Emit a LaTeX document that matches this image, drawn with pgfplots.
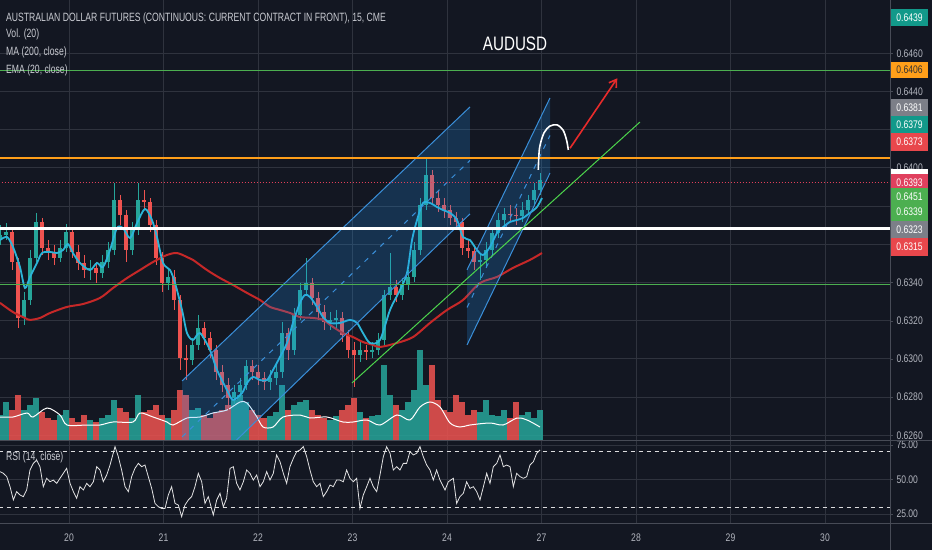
\documentclass[border=0pt]{standalone}
\usepackage{fontspec}
\setmainfont{Liberation Sans}[FakeStretch=0.78]
\newfontfamily\legfont{Liberation Sans}[FakeStretch=0.72]
\usepackage{pgfplots}
\pgfplotsset{compat=1.18}
\usepackage{pgfplotstable}
\usetikzlibrary{arrows.meta}

\definecolor{bg}{HTML}{131722}
\definecolor{gridc}{HTML}{2F333E}
\definecolor{sepc}{HTML}{474B56}
\definecolor{txt}{HTML}{B2B5BE}
\definecolor{legtxt}{HTML}{C9CBD2}
\definecolor{upc}{HTML}{26A69A}
\definecolor{dnc}{HTML}{EF5350}
\definecolor{emac}{HTML}{2CB5D8}
\definecolor{mac}{HTML}{C62828}
\definecolor{chline}{HTML}{3A8FD9}
\definecolor{chfill}{HTML}{2196F3}
\definecolor{hgreen}{HTML}{4CAF50}
\definecolor{horange}{HTML}{FF9F1A}
\definecolor{hred}{HTML}{E0405A}
\definecolor{tgreen}{HTML}{4CD44C}
\definecolor{arrowred}{HTML}{E82B2B}
\definecolor{bteal}{HTML}{12998A}
\definecolor{bred}{HTML}{E8474C}
\definecolor{bcrim}{HTML}{E0405E}
\definecolor{bgrey}{HTML}{7C7F88}
\definecolor{bgreen}{HTML}{4CAF50}

\begin{document}

\pgfplotstableread{
t o h l c v
-0.730 0.63622 0.63701 0.63596 0.63649 25
-0.667 0.63649 0.63711 0.63622 0.63664 38
-0.603 0.63664 0.63685 0.63465 0.63507 30
-0.540 0.63507 0.63528 0.63162 0.63214 45
-0.476 0.63214 0.63350 0.63177 0.63308 30
-0.413 0.63308 0.63570 0.63282 0.63528 35
-0.349 0.63528 0.63764 0.63507 0.63717 42
-0.286 0.63717 0.63738 0.63544 0.63581 28
-0.222 0.63581 0.63622 0.63518 0.63560 22
-0.159 0.63560 0.63596 0.63491 0.63528 20
-0.095 0.63528 0.63622 0.63507 0.63581 25
-0.032 0.63581 0.63706 0.63560 0.63664 30
0.032 0.63664 0.63685 0.63528 0.63560 22
0.095 0.63560 0.63596 0.63465 0.63502 18
0.159 0.63502 0.63544 0.63423 0.63465 25
0.222 0.63465 0.63518 0.63413 0.63476 20
0.286 0.63476 0.63507 0.63397 0.63450 18
0.349 0.63450 0.63544 0.63423 0.63507 22
0.413 0.63507 0.63612 0.63476 0.63570 25
0.476 0.63570 0.63921 0.63544 0.63832 40
0.540 0.63832 0.63858 0.63701 0.63753 32
0.603 0.63753 0.63779 0.63507 0.63570 28
0.667 0.63570 0.63717 0.63544 0.63675 22
0.730 0.63675 0.63921 0.63649 0.63832 45
0.794 0.63832 0.63884 0.63779 0.63821 28
0.857 0.63821 0.63842 0.63664 0.63701 30
0.921 0.63701 0.63727 0.63491 0.63528 35
0.984 0.63528 0.63560 0.63350 0.63397 25
1.048 0.63397 0.63476 0.63361 0.63429 22
1.111 0.63429 0.63465 0.63256 0.63308 30
1.175 0.63308 0.63334 0.62942 0.63005 50
1.238 0.63005 0.63073 0.62889 0.62994 45
1.302 0.62994 0.63109 0.62968 0.63073 30
1.365 0.63073 0.63230 0.63046 0.63162 32
1.429 0.63162 0.63193 0.63073 0.63109 25
1.492 0.63109 0.63141 0.63005 0.63046 22
1.556 0.63046 0.63073 0.62889 0.62931 28
1.619 0.62931 0.62968 0.62827 0.62863 30
1.683 0.62863 0.62900 0.62732 0.62795 35
1.746 0.62795 0.62863 0.62758 0.62827 40
1.810 0.62827 0.62900 0.62795 0.62863 45
1.873 0.62863 0.62994 0.62837 0.62963 38
1.937 0.62963 0.62994 0.62889 0.62931 30
2.000 0.62931 0.62968 0.62863 0.62900 25
2.063 0.62900 0.62931 0.62837 0.62879 22
2.127 0.62879 0.62942 0.62837 0.62900 24
2.190 0.62900 0.62968 0.62863 0.62931 28
2.254 0.62931 0.63193 0.62900 0.63135 55
2.317 0.63135 0.63162 0.62994 0.63046 30
2.381 0.63046 0.63266 0.63020 0.63230 35
2.444 0.63230 0.63397 0.63204 0.63361 38
2.508 0.63361 0.63528 0.63334 0.63397 40
2.571 0.63397 0.63423 0.63282 0.63319 30
2.635 0.63319 0.63350 0.63204 0.63245 25
2.698 0.63245 0.63282 0.63151 0.63193 22
2.762 0.63193 0.63245 0.63151 0.63204 20
2.825 0.63204 0.63256 0.63162 0.63214 24
2.889 0.63214 0.63245 0.63088 0.63125 30
2.952 0.63125 0.63151 0.63005 0.63046 35
3.016 0.63046 0.63088 0.62853 0.63020 42
3.079 0.63020 0.63088 0.62984 0.63046 28
3.143 0.63046 0.63073 0.62994 0.63036 22
3.206 0.63036 0.63088 0.63005 0.63046 24
3.270 0.63046 0.63135 0.63020 0.63099 25
3.333 0.63099 0.63361 0.63073 0.63334 75
3.397 0.63334 0.63554 0.63308 0.63376 45
3.460 0.63376 0.63413 0.63298 0.63334 35
3.524 0.63334 0.63423 0.63308 0.63387 30
3.587 0.63387 0.63465 0.63361 0.63429 38
3.651 0.63429 0.63612 0.63403 0.63570 50
3.714 0.63570 0.63842 0.63544 0.63806 90
3.778 0.63806 0.64052 0.63779 0.63963 55
3.841 0.63963 0.63989 0.63806 0.63842 75
3.905 0.63842 0.63884 0.63769 0.63806 40
3.968 0.63806 0.63842 0.63738 0.63779 30
4.032 0.63779 0.63806 0.63701 0.63738 28
4.095 0.63738 0.63769 0.63675 0.63717 45
4.159 0.63717 0.63738 0.63544 0.63581 38
4.222 0.63581 0.63622 0.63528 0.63565 25
4.286 0.63565 0.63596 0.63465 0.63507 30
4.349 0.63507 0.63544 0.63413 0.63518 28
4.413 0.63518 0.63612 0.63476 0.63570 40
4.476 0.63570 0.63685 0.63544 0.63659 25
4.540 0.63659 0.63764 0.63633 0.63727 24
4.603 0.63727 0.63790 0.63701 0.63759 30
4.667 0.63759 0.63806 0.63717 0.63753 22
4.730 0.63753 0.63790 0.63701 0.63748 38
4.794 0.63748 0.63821 0.63717 0.63779 25
4.857 0.63779 0.63858 0.63753 0.63832 28
4.921 0.63832 0.63921 0.63806 0.63884 22
4.984 0.63884 0.63973 0.63858 0.63937 30
}\candles

\pgfplotstableread{
t v
-0.730 23
-0.593 23
-0.444 27
-0.381 23
-0.233 32
-0.095 25
-0.021 15
0.190 15
0.328 15
0.466 18
0.677 18
0.751 27
0.889 23
1.037 18
1.101 15
1.249 22
1.386 23
1.524 27
1.672 30
1.810 38
1.884 37
1.989 23
2.053 13
2.159 13
2.265 23
2.444 25
2.550 22
2.730 23
2.899 18
3.005 18
3.153 20
3.291 15
3.471 25
3.608 20
3.714 33
3.820 38
3.926 33
4.032 17
4.138 13
4.243 15
4.455 17
4.593 15
4.741 22
4.847 20
4.984 13
}\volma

\pgfplotstableread{
t p
-0.730 0.63622
-0.656 0.63638
-0.593 0.63586
-0.519 0.63481
-0.466 0.63371
-0.413 0.63429
-0.339 0.63502
-0.286 0.63554
-0.201 0.63560
-0.127 0.63554
-0.063 0.63570
-0.011 0.63601
0.042 0.63554
0.116 0.63502
0.222 0.63465
0.296 0.63502
0.360 0.63481
0.434 0.63570
0.508 0.63685
0.571 0.63685
0.646 0.63633
0.720 0.63711
0.804 0.63785
0.878 0.63727
0.931 0.63638
0.995 0.63502
1.069 0.63465
1.122 0.63397
1.196 0.63256
1.249 0.63135
1.312 0.63099
1.386 0.63135
1.492 0.63046
1.566 0.62942
1.672 0.62837
1.735 0.62785
1.831 0.62821
1.884 0.62874
1.947 0.62905
2.021 0.62889
2.095 0.62889
2.159 0.62942
2.233 0.63010
2.307 0.63083
2.370 0.63188
2.444 0.63293
2.497 0.63334
2.550 0.63324
2.624 0.63272
2.688 0.63219
2.762 0.63188
2.868 0.63188
2.974 0.63204
3.048 0.63188
3.111 0.63135
3.185 0.63083
3.291 0.63099
3.397 0.63256
3.503 0.63361
3.577 0.63450
3.630 0.63622
3.683 0.63727
3.746 0.63816
3.820 0.63816
3.894 0.63795
3.958 0.63779
4.032 0.63764
4.106 0.63727
4.169 0.63638
4.243 0.63622
4.317 0.63570
4.381 0.63544
4.455 0.63586
4.529 0.63659
4.593 0.63690
4.667 0.63717
4.741 0.63727
4.804 0.63738
4.878 0.63764
4.952 0.63795
5.005 0.63842
}\ema

\pgfplotstableread{
t p
-0.730 0.63293
-0.593 0.63245
-0.466 0.63214
-0.413 0.63204
-0.307 0.63214
-0.201 0.63240
-0.021 0.63272
0.148 0.63287
0.328 0.63319
0.466 0.63371
0.614 0.63423
0.751 0.63465
0.889 0.63507
1.037 0.63544
1.143 0.63554
1.249 0.63533
1.312 0.63518
1.460 0.63465
1.598 0.63423
1.735 0.63387
1.884 0.63345
2.021 0.63308
2.127 0.63272
2.233 0.63256
2.339 0.63240
2.444 0.63219
2.582 0.63214
2.688 0.63204
2.794 0.63167
2.899 0.63135
3.005 0.63114
3.111 0.63088
3.217 0.63073
3.291 0.63062
3.471 0.63083
3.640 0.63114
3.820 0.63188
4.000 0.63256
4.169 0.63308
4.349 0.63397
4.529 0.63429
4.698 0.63476
4.878 0.63518
5.005 0.63554
}\mav

\pgfplotstableread{
t r
-0.730 55.7
-0.695 54.5
-0.659 52.1
-0.624 44.8
-0.589 35.2
-0.554 41.2
-0.518 38.8
-0.483 37.6
-0.448 42.4
-0.413 56.9
-0.377 61.7
-0.342 64.1
-0.307 59.3
-0.272 44.8
-0.236 50.9
-0.201 48.4
-0.166 49.6
-0.130 47.2
-0.095 50.9
-0.060 54.5
-0.025 58.1
0.011 47.2
0.046 41.2
0.081 36.4
0.116 44.8
0.152 42.4
0.187 47.2
0.222 44.8
0.258 48.4
0.293 59.3
0.328 56.9
0.363 48.4
0.399 53.3
0.434 60.5
0.487 73.8
0.522 66.5
0.557 56.9
0.593 44.8
0.628 41.2
0.663 52.1
0.698 58.1
0.734 61.7
0.769 59.3
0.804 60.5
0.839 52.1
0.875 43.6
0.910 32.7
0.945 30.3
0.980 29.1
1.016 29.1
1.051 38.8
1.086 44.8
1.122 32.7
1.157 31.5
1.192 23.1
1.227 31.5
1.263 35.2
1.298 37.6
1.333 44.8
1.368 54.5
1.404 48.4
1.439 32.7
1.474 37.6
1.527 24.3
1.563 35.2
1.598 40.0
1.633 30.3
1.668 36.4
1.704 58.1
1.739 59.3
1.774 47.2
1.809 42.4
1.845 48.4
1.880 56.9
1.915 54.5
1.950 49.6
1.986 53.3
2.021 44.8
2.056 48.4
2.092 55.7
2.127 49.6
2.162 54.5
2.197 67.8
2.233 62.9
2.268 54.5
2.303 47.2
2.338 59.3
2.374 65.3
2.409 70.2
2.444 71.4
2.480 73.8
2.515 66.5
2.550 56.9
2.585 48.4
2.621 44.8
2.656 47.2
2.691 37.6
2.726 41.2
2.762 46.0
2.797 44.8
2.832 49.6
2.867 49.6
2.903 48.4
2.938 56.9
2.973 50.9
3.009 48.4
3.044 50.9
3.079 29.1
3.114 38.8
3.150 44.8
3.185 50.9
3.220 44.8
3.256 41.2
3.291 53.3
3.326 66.5
3.361 73.8
3.397 69.0
3.432 56.9
3.467 59.3
3.502 56.9
3.538 61.7
3.573 61.7
3.608 70.2
3.644 67.8
3.679 69.0
3.714 73.8
3.749 66.5
3.785 60.5
3.820 56.9
3.855 49.6
3.890 56.9
3.926 49.6
3.979 42.4
4.014 48.4
4.067 50.9
4.102 32.7
4.137 37.6
4.173 40.0
4.208 48.4
4.243 43.6
4.279 44.8
4.314 41.2
4.349 35.2
4.385 44.8
4.420 54.5
4.455 47.2
4.490 59.3
4.526 61.7
4.561 67.8
4.596 59.3
4.631 60.5
4.667 59.3
4.702 44.8
4.737 54.5
4.772 52.1
4.808 50.9
4.843 52.1
4.878 60.5
4.914 62.9
4.949 69.0
4.984 71.4
}\rsi

\begin{tikzpicture}[x=1pt,y=1pt]
\useasboundingbox (0,0) rectangle (932,550);
\fill[bg] (0,0) rectangle (932,550);

\pgfplotsset{
  pricebase/.style={at={(0pt,110pt)}, anchor=south west, width=890pt, height=440pt,
    scale only axis, xmin=-0.7302, xmax=8.6878, ymin=0.62575, ymax=0.64879},
  lblfont/.style={font=\fontsize{11}{12}\selectfont, text=txt}
}

% ---------- price grid and scale ----------
\begin{axis}[pricebase,
  axis line style={draw=none},
  xtick={0,1,2,3,4,5,6,7,8}, xticklabels={},
  ytick={0.626,0.628,0.630,0.632,0.634,0.636,0.638,0.640,0.642,0.644,0.646},
  yticklabels={0.6260,0.6280,0.6300,0.6320,0.6340,0.6360,0.6380,0.6400,0.6420,0.6440,0.6460},
  grid=major, grid style={gridc, line width=0.8pt},
  yticklabel pos=right, ytick pos=right, tick align=outside,
  major tick length=3pt, xtick style={draw=none}, ytick style={draw=sepc},
  yticklabel style={lblfont, xshift=0pt}]
\addplot[draw=none] coordinates {(0,0.63)};
\end{axis}

% ---------- volume ----------
\begin{axis}[at={(0pt,110pt)}, anchor=south west, width=890pt, height=440pt,
  scale only axis, xmin=-0.7302, xmax=8.6878, ymin=0, ymax=440, hide axis]
\addplot[ycomb, line width=5.3pt, upc, opacity=0.85,
  x filter/.expression={\thisrow{c}<\thisrow{o} ? nan : x}] table[x=t,y=v]{\candles};
\addplot[ycomb, line width=5.3pt, dnc, opacity=0.85,
  x filter/.expression={\thisrow{c}<\thisrow{o} ? x : nan}] table[x=t,y=v]{\candles};
\addplot[white, line width=1pt, smooth] table[x=t,y=v]{\volma};
\end{axis}

% ---------- price series and drawings ----------
\begin{axis}[pricebase, hide axis]
% wicks
\addplot[draw=none, x filter/.expression={\thisrow{c}<\thisrow{o} ? nan : x},
  error bars/.cd, y dir=minus, y explicit, error mark=none,
  error bar style={draw=upc, line width=0.8pt, solid}]
  table[x=t, y=h, y error minus expr=\thisrow{h}-\thisrow{l}]{\candles};
\addplot[draw=none, x filter/.expression={\thisrow{c}<\thisrow{o} ? x : nan},
  error bars/.cd, y dir=minus, y explicit, error mark=none,
  error bar style={draw=dnc, line width=0.8pt, solid}]
  table[x=t, y=h, y error minus expr=\thisrow{h}-\thisrow{l}]{\candles};
% bodies
\addplot[draw=none, x filter/.expression={\thisrow{c}<\thisrow{o} ? nan : x},
  error bars/.cd, y dir=plus, y explicit, error mark=none,
  error bar style={draw=upc, line width=3.4pt, solid}]
  table[x=t, y=o, y error plus expr=\thisrow{c}-\thisrow{o}]{\candles};
\addplot[draw=none, x filter/.expression={\thisrow{c}<\thisrow{o} ? x : nan},
  error bars/.cd, y dir=plus, y explicit, error mark=none,
  error bar style={draw=dnc, line width=3.4pt, solid}]
  table[x=t, y=c, y error plus expr=\thisrow{o}-\thisrow{c}]{\candles};
% moving averages
\addplot[mac, line width=2pt, smooth] table[x=t,y=p]{\mav};
\addplot[emac, line width=1.8pt, smooth] table[x=t,y=p]{\ema};
% channel 1
\addplot[draw=none, fill=chfill, fill opacity=0.22]
  coordinates {(1.196,0.62884) (4.243,0.64319) (4.243,0.63759) (1.196,0.62298)};
\addplot[chline, line width=1pt] coordinates {(1.196,0.62884) (4.243,0.64319)};
\addplot[chline, line width=1pt] coordinates {(1.196,0.62298) (4.243,0.63759)};
\addplot[chline, line width=1pt, dash pattern=on 5pt off 6pt] coordinates {(1.196,0.62591) (4.243,0.64039)};
% channel 2
\addplot[draw=none, fill=chfill, fill opacity=0.22]
  coordinates {(4.212,0.63466) (5.090,0.64366) (5.090,0.63973) (4.212,0.63073)};
\addplot[chline, line width=1pt] coordinates {(4.212,0.63466) (5.090,0.64366)};
\addplot[chline, line width=1pt] coordinates {(4.212,0.63073) (5.090,0.63973)};
\addplot[chline, line width=1pt, dash pattern=on 5pt off 6pt] coordinates {(4.212,0.63269) (5.090,0.64170)};
% horizontal levels
\addplot[hgreen, line width=1.6pt] coordinates {(-1,0.64510) (9,0.64510)};
\addplot[horange, line width=2pt] coordinates {(-1,0.64054) (9,0.64054)};
\addplot[hred, line width=1pt, dotted] coordinates {(-1,0.63922) (9,0.63922)};
\addplot[white, line width=2.2pt] coordinates {(-1,0.63682) (9,0.63682)};
\addplot[hgreen, line width=1.6pt] coordinates {(-1,0.63390) (9,0.63390)};
% trend line
\addplot[tgreen, line width=1pt] coordinates {(2.995,0.62874) (6.042,0.64240)};
% arc and arrow
\addplot[white, line width=1.6pt, smooth] coordinates {(4.966,0.63989) (4.979,0.64104) (5.026,0.64183) (5.090,0.64219) (5.164,0.64225) (5.228,0.64198) (5.265,0.64146) (5.284,0.64094)};
\addplot[arrowred, line width=1.6pt, -{Straight Barb[length=7pt,width=9pt]}] coordinates {(5.302,0.64103) (5.802,0.64469)};
\end{axis}

% ---------- RSI ----------
\begin{axis}[at={(0pt,27pt)}, anchor=south west, width=890pt, height=82pt,
  scale only axis, xmin=-0.7302, xmax=8.6878, ymin=18.5, ymax=77.9,
  axis line style={draw=none},
  xtick={0,1,2,3,4,5,6,7,8}, xticklabels={20,21,22,23,24,27,28,29,30},
  ytick={25,50,75}, yticklabels={25.00,50.00,75.00},
  grid=major, grid style={gridc, line width=0.8pt},
  yticklabel pos=right, ytick pos=right, tick align=outside,
  major tick length=3pt, xtick style={draw=none}, ytick style={draw=sepc},
  yticklabel style={lblfont},
  xticklabel style={lblfont, yshift=-4pt}]
\addplot[white!85!bg, line width=0.9pt, dash pattern=on 4pt off 4pt] coordinates {(-1,70) (9,70)};
\addplot[white!85!bg, line width=0.9pt, dash pattern=on 4pt off 4pt] coordinates {(-1,30) (9,30)};
\addplot[white!88!bg, line width=0.8pt] table[x=t,y=r]{\rsi};
\end{axis}

% ---------- frame lines ----------
\draw[sepc, line width=1pt] (0,109.5) -- (932,109.5);
\draw[sepc, line width=1pt] (0,27) -- (932,27);
\draw[sepc, line width=1pt] (890.5,0) -- (890.5,550);

% ---------- price-scale boxes ----------
\newcommand{\pbox}[5]{%
  \fill[#3] (891,550-#1) rectangle (928,550-#2);
  \node[text=#4, font=\fontsize{11}{12}\selectfont, inner sep=0pt] at (909.5,{550-(#1+#2)/2}) {#5};}
\pbox{9}{26}{bteal}{white}{0.6439}
\pbox{62}{78}{horange}{black!80}{0.6406}
\pbox{99}{116}{bgrey}{white}{0.6381}
\pbox{116}{133}{bteal}{white}{0.6379}
\pbox{133}{151}{bred}{white}{0.6373}
\fill[white] (891,550-169) rectangle (928,550-174);
\pbox{174}{191}{bcrim}{white}{0.6393}
\pbox{188}{205}{bgreen}{white}{0.6451}
\fill[bgreen] (891,550-200) rectangle (928,550-221);
\node[text=white, font=\fontsize{11}{12}\selectfont, inner sep=0pt] at (909.5,338) {0.6339};
\pbox{221}{238}{bgrey}{white}{0.6323}
\pbox{238}{256}{bred}{white}{0.6315}

% ---------- legend texts ----------
\begin{scope}[every node/.style={anchor=west, inner sep=0pt, text=legtxt, font=\legfont\fontsize{12}{13}\selectfont}]
\node at (6,532) {AUSTRALIAN DOLLAR FUTURES (CONTINUOUS: CURRENT CONTRACT IN FRONT), 15, CME};
\node at (6,516) {Vol. (20)};
\node at (6,498) {MA (200, close)};
\node at (6,480) {EMA (20, close)};
\node at (6,93) {RSI (14, close)};
\end{scope}
\node[text=white, font=\fontsize{19.5}{20}\selectfont, inner sep=0pt] at (515,506) {AUDUSD};

\end{tikzpicture}
\end{document}
